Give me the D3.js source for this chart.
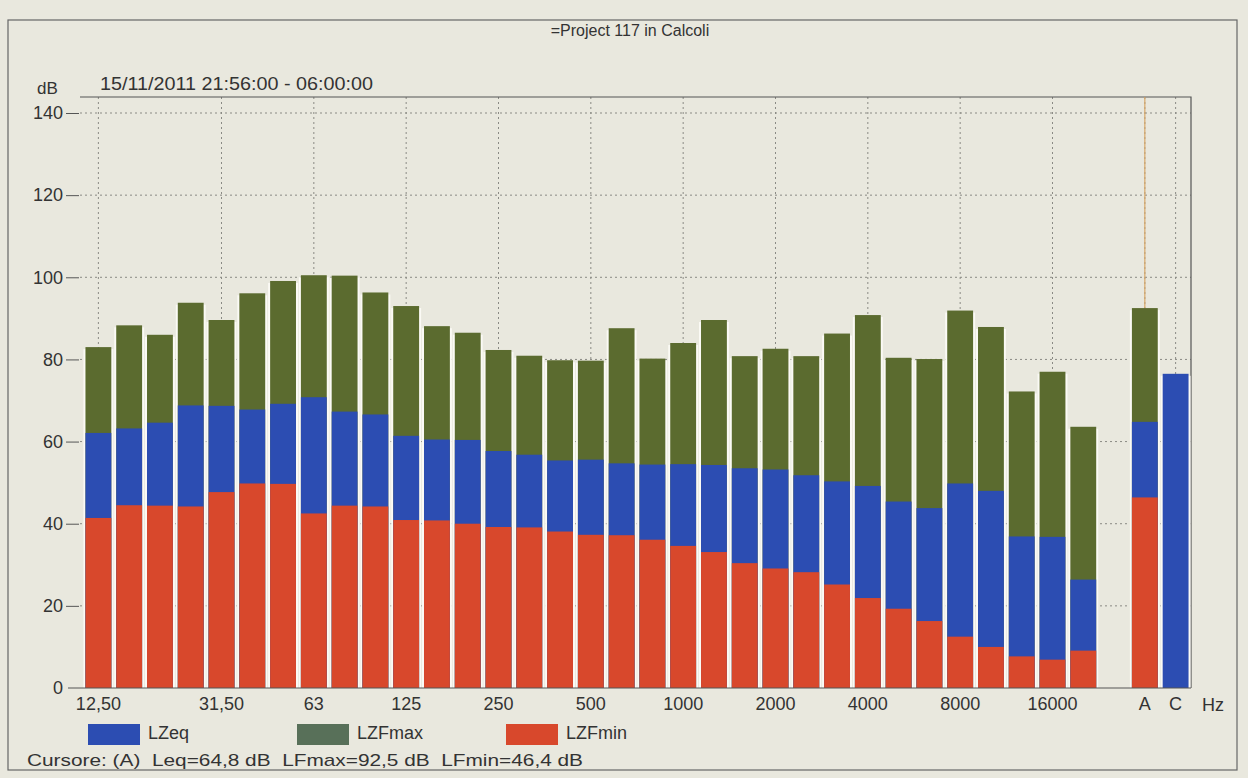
<!DOCTYPE html>
<html>
<head>
    <meta charset="utf-8">
    <title>Project 117 in Calcoli</title>
    <script src="https://cdn.jsdelivr.net/npm/d3@7"></script>
    <style>
        body { margin: 0; background: #e9e8de; }
        svg text { font-family: "Liberation Sans", Arial, sans-serif; fill: #333; }
    </style>
</head>
<body>
<div id="chart"></div>
<script>
    // third-octave bands, then an empty slot, then A and C totals
    var bands = ["12.5","16","20","25","31.5","40","50","63","80","100","125","160","200","250","315","400","500",
                 "630","800","1000","1250","1600","2000","2500","3150","4000","5000","6300","8000","10000","12500","16000","20000",
                 "gap","A","C"];
    var lzfmax = [83, 88.3, 86, 93.8, 89.6, 96.1, 99.1, 100.5, 100.4, 96.3, 93, 88.1, 86.5, 82.3, 80.9, 79.8, 79.7,
                  87.6, 80.2, 84, 89.6, 80.8, 82.6, 80.8, 86.3, 90.8, 80.4, 80.1, 91.9, 87.9, 72.2, 77, 63.6,
                  null, 92.5, null];
    var lzeq   = [62.1, 63.2, 64.6, 68.8, 68.7, 67.8, 69.2, 70.8, 67.3, 66.6, 61.4, 60.5, 60.4, 57.7, 56.8, 55.4, 55.6,
                  54.7, 54.4, 54.5, 54.3, 53.5, 53.2, 51.8, 50.3, 49.2, 45.4, 43.8, 49.8, 48, 36.9, 36.8, 26.4,
                  null, 64.8, 76.5];
    var lzfmin = [41.4, 44.5, 44.4, 44.2, 47.7, 49.8, 49.7, 42.5, 44.4, 44.2, 40.9, 40.8, 40, 39.2, 39.1, 38.1, 37.3,
                  37.2, 36.1, 34.6, 33.1, 30.4, 29.1, 28.2, 25.2, 21.9, 19.3, 16.3, 12.5, 10, 7.7, 6.9, 9.1,
                  null, 46.4, null];
    var tickBands = ["12.5","31.5","63","125","250","500","1000","2000","4000","8000","16000","A","C"];
    var tickText  = ["12,50","31,50","63","125","250","500","1000","2000","4000","8000","16000","A","C"];
    var yTicks = [0, 20, 40, 60, 80, 100, 120, 140];
    var series = [
        {name: "LZFmax", values: lzfmax, color: "#5b6b2f", legend: "#587059"},
        {name: "LZeq",   values: lzeq,   color: "#2c4db2", legend: "#2c4db2"},
        {name: "LZFmin", values: lzfmin, color: "#d8482c", legend: "#d8482c"}
    ];
    var legendOrder = ["LZeq", "LZFmax", "LZFmin"];

    var width = 1248, height = 778;
    var plot = {left: 80, right: 1191, top: 97, bottom: 688};

    var svg = d3.select("#chart").append("svg")
        .attr("width", width)
        .attr("height", height);

    // outer frame and title
    svg.append("rect")
        .attr("x", 8).attr("y", 20).attr("width", 1229).attr("height", 750)
        .attr("fill", "none").attr("stroke", "#666").attr("stroke-width", 1.2);
    svg.append("text")
        .attr("x", 630).attr("y", 36)
        .attr("text-anchor", "middle")
        .style("font-size", "16px")
        .text("=Project 117 in Calcoli");
    svg.append("text").attr("x", 37).attr("y", 94).style("font-size", "17px").text("dB");
    svg.append("text").attr("x", 100).attr("y", 90).style("font-size", "18px")
        .attr("textLength", 273).attr("lengthAdjust", "spacingAndGlyphs")
        .text("15/11/2011 21:56:00 - 06:00:00");

    var x = d3.scaleBand()
        .domain(bands)
        .range([plot.left + 3, plot.right])
        .paddingInner(0.16)
        .paddingOuter(0.08);

    var y = d3.scaleLinear()
        .domain([0, 140])
        .range([plot.bottom, 113]);

    // grid
    var grid = svg.append("g").attr("stroke", "#8a8a84").attr("stroke-dasharray", "2,3").attr("stroke-width", 1);
    grid.selectAll("line.h")
        .data(yTicks.filter(d => d > 0))
        .enter().append("line")
        .attr("class", "h")
        .attr("x1", plot.left).attr("x2", plot.right)
        .attr("y1", d => y(d)).attr("y2", d => y(d));
    grid.selectAll("line.v")
        .data(tickBands)
        .enter().append("line")
        .attr("class", "v")
        .attr("x1", d => x(d) + x.bandwidth() / 2).attr("x2", d => x(d) + x.bandwidth() / 2)
        .attr("y1", plot.top).attr("y2", plot.bottom);

    // plot border (top and right)
    svg.append("path")
        .attr("d", `M${plot.left},${plot.top}H${plot.right}V${plot.bottom}`)
        .attr("fill", "none").attr("stroke", "#555").attr("stroke-width", 1.2);

    // cursor on A
    svg.append("line")
        .attr("x1", x("A") + x.bandwidth() / 2).attr("x2", x("A") + x.bandwidth() / 2)
        .attr("y1", plot.top).attr("y2", y(lzfmax[34]))
        .attr("stroke", "#d9a868").attr("stroke-width", 1.2);

    // white separators behind the bars
    var tops = bands.map((b, i) => ({band: b, v: d3.max([lzfmax[i], lzeq[i], lzfmin[i]])})).filter(d => d.v != null);
    svg.append("g").selectAll("rect")
        .data(tops)
        .enter().append("rect")
        .attr("x", d => x(d.band) - 2)
        .attr("y", d => y(d.v) + 2)
        .attr("width", x.bandwidth() + 4)
        .attr("height", d => y(0) - y(d.v) - 2)
        .attr("fill", "#fbfaf5");

    // bars: each series drawn from zero, overlapped (max behind, min in front)
    series.forEach(function(s) {
        svg.append("g").selectAll("rect")
            .data(bands.map((b, i) => ({band: b, v: s.values[i]})).filter(d => d.v != null))
            .enter().append("rect")
            .attr("x", d => x(d.band))
            .attr("y", d => y(d.v))
            .attr("width", x.bandwidth())
            .attr("height", d => y(0) - y(d.v))
            .attr("fill", s.color);
    });

    // baseline
    svg.append("line")
        .attr("x1", 68).attr("x2", plot.right)
        .attr("y1", y(0)).attr("y2", y(0))
        .attr("stroke", "#555").attr("stroke-width", 1);

    // y axis
    var yAxis = svg.append("g")
        .attr("transform", `translate(${plot.left - 1},0)`)
        .call(d3.axisLeft(y).tickValues(yTicks).tickSize(13).tickPadding(3));
    yAxis.select(".domain").remove();
    yAxis.selectAll(".tick line").attr("stroke", "#555");
    yAxis.selectAll("text").style("font-size", "18px").attr("fill", "#333");
    yAxis.select(".tick:first-of-type line").remove();

    // x axis labels
    var xAxis = svg.append("g")
        .attr("transform", `translate(0,${y(0)})`)
        .call(d3.axisBottom(x).tickValues(tickBands).tickSize(0).tickPadding(9)
            .tickFormat((d, i) => tickText[i]));
    xAxis.select(".domain").remove();
    xAxis.selectAll("text").style("font-size", "18px").attr("fill", "#333");
    svg.append("text").attr("x", 1213).attr("y", y(0) + 23).attr("text-anchor", "middle")
        .style("font-size", "18px").text("Hz");

    // legend
    var legend = svg.append("g").selectAll("g")
        .data(legendOrder.map(n => series.find(s => s.name == n)))
        .enter().append("g")
        .attr("transform", (d, i) => `translate(${88 + i * 209},724)`);
    legend.append("rect").attr("width", 52).attr("height", 21).attr("fill", d => d.legend);
    legend.append("text").attr("x", 60).attr("y", 15).style("font-size", "18px").text(d => d.name);

    svg.append("text")
        .attr("x", 27).attr("y", 766)
        .style("font-size", "17px")
        .attr("xml:space", "preserve")
        .attr("textLength", 556).attr("lengthAdjust", "spacingAndGlyphs")
        .text("Cursore: (A)  Leq=64,8 dB  LFmax=92,5 dB  LFmin=46,4 dB");
</script>
</body>
</html>
